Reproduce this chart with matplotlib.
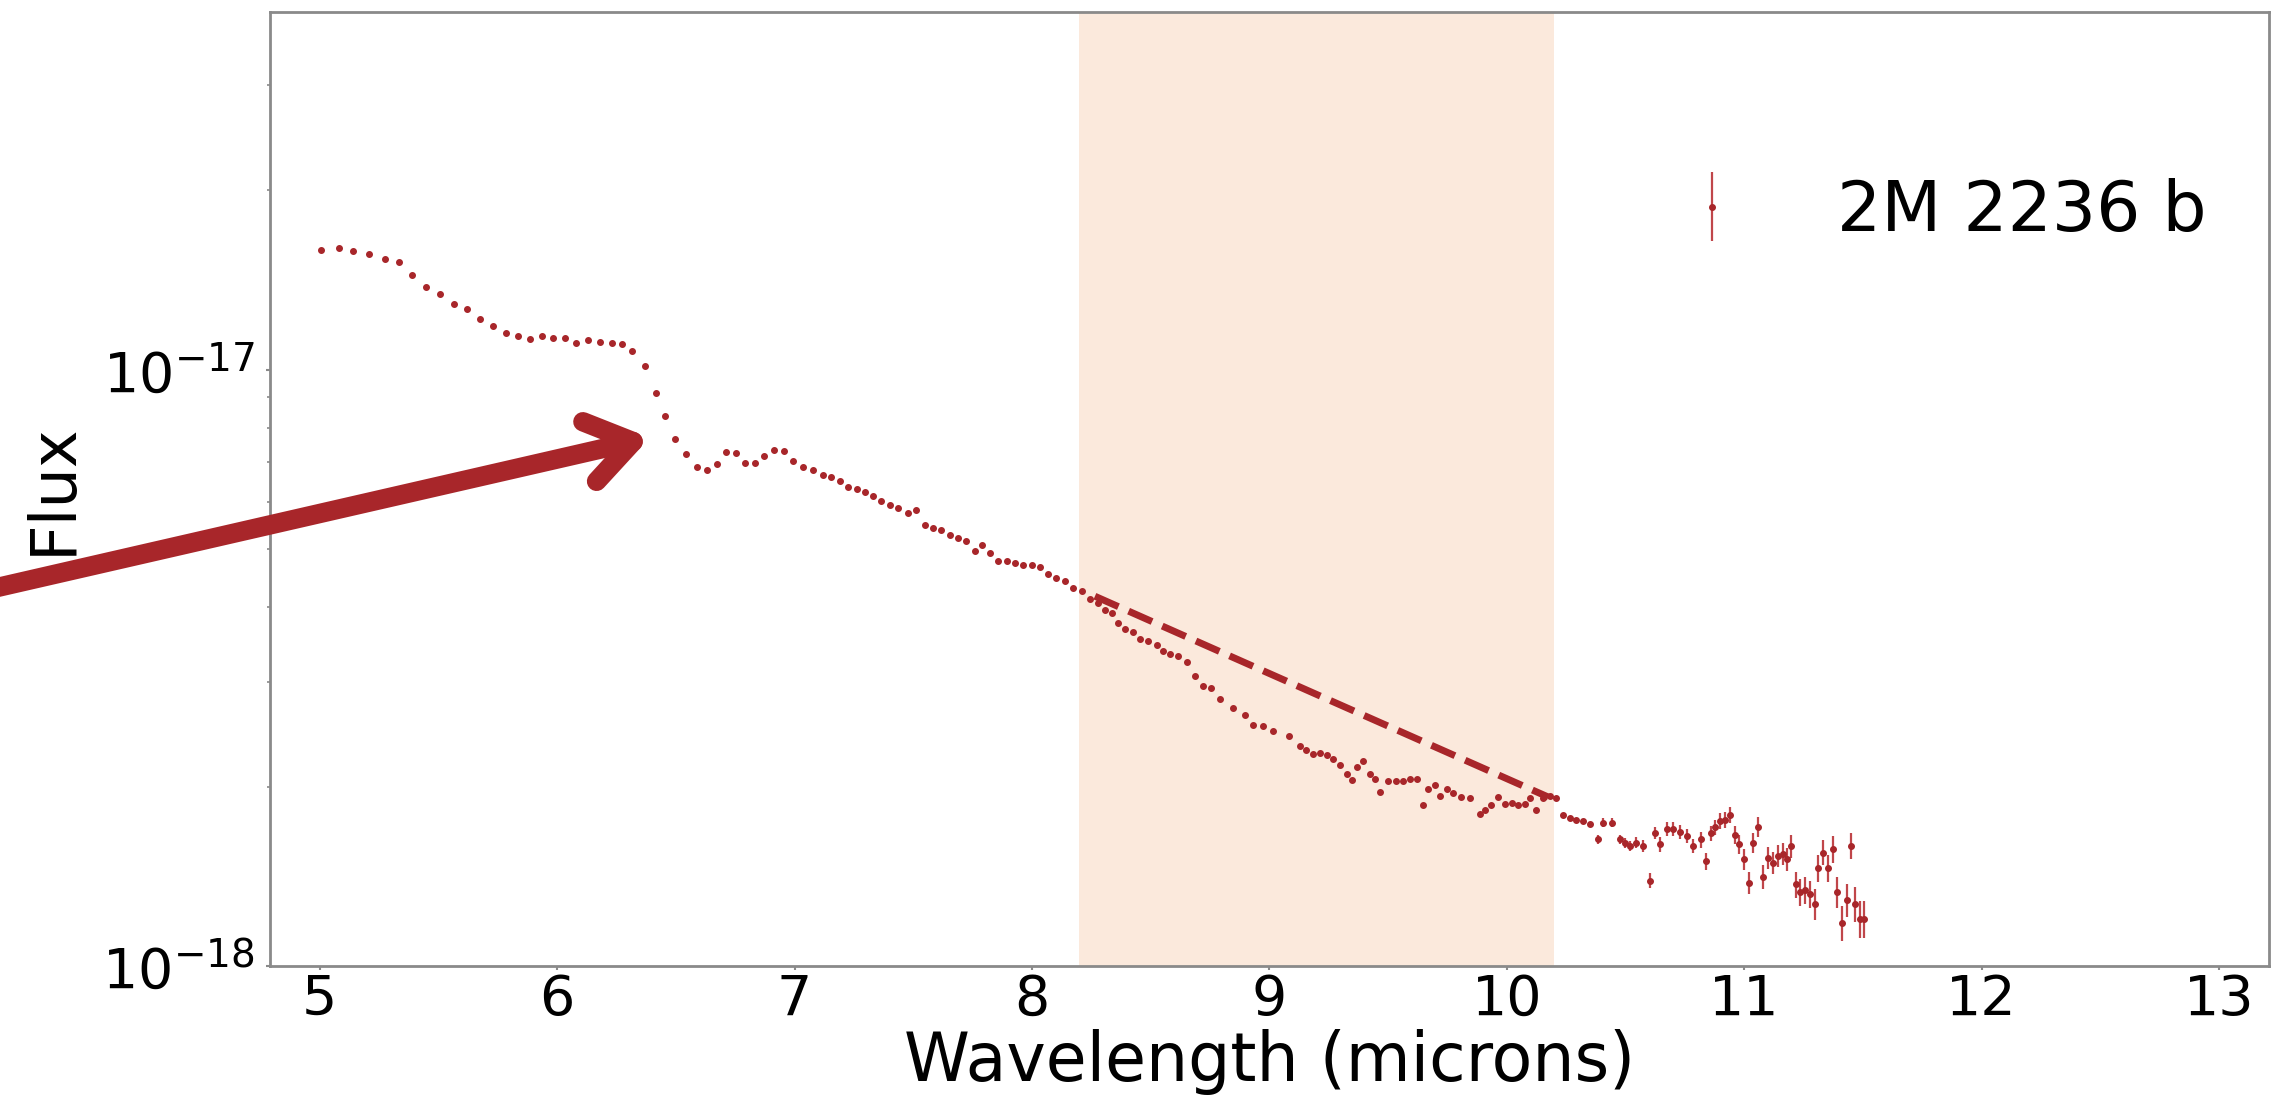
import numpy as np
import matplotlib
matplotlib.use("Agg")
import matplotlib.pyplot as plt
from matplotlib.patches import FancyArrowPatch

# spectrum, flux in units of 1e-18
wave_main = [5.007, 5.080, 5.140, 5.208, 5.274, 5.333, 5.390, 5.447, 5.505, 5.564,
             5.622, 5.674, 5.730, 5.786, 5.835, 5.885, 5.934, 5.983, 6.032, 6.081,
             6.130, 6.179, 6.229, 6.271, 6.317, 6.369, 6.415, 6.456, 6.498, 6.542,
             6.587, 6.629, 6.671, 6.713, 6.755, 6.790, 6.832, 6.872, 6.912, 6.955,
             6.994, 7.036, 7.078, 7.120, 7.155, 7.190, 7.225, 7.261, 7.296, 7.331,
             7.366, 7.401, 7.436, 7.478, 7.513, 7.548, 7.583, 7.618, 7.654, 7.689,
             7.724, 7.759, 7.791, 7.822, 7.857, 7.893, 7.928, 7.963, 7.998, 8.033,
             8.068, 8.103, 8.138, 8.173, 8.209, 8.244, 8.278, 8.307, 8.335, 8.363,
             8.391, 8.426, 8.454, 8.489, 8.525, 8.552, 8.580, 8.616, 8.651, 8.686,
             8.721, 8.756, 8.791, 8.845, 8.898, 8.930, 8.974, 9.017, 9.081, 9.128,
             9.156, 9.184, 9.212, 9.241, 9.268, 9.297, 9.325, 9.346, 9.370, 9.395,
             9.423, 9.444, 9.465, 9.500, 9.535, 9.563, 9.591, 9.620, 9.648, 9.669,
             9.697, 9.718, 9.746, 9.774, 9.809, 9.844, 9.886, 9.907, 9.935, 9.963,
             9.992, 10.020, 10.048, 10.076, 10.097, 10.125, 10.153, 10.181, 10.209, 10.237,
             10.265, 10.293, 10.322, 10.350]
flux_main = [15.89, 16.03, 15.82, 15.62, 15.32, 15.15, 14.39, 13.79, 13.41, 12.90,
             12.66, 12.16, 11.82, 11.52, 11.37, 11.26, 11.37, 11.30, 11.30, 11.08,
             11.20, 11.13, 11.08, 11.05, 10.76, 10.13, 9.14, 8.35, 7.66, 7.21,
             6.87, 6.78, 6.96, 7.28, 7.25, 6.98, 6.98, 7.18, 7.34, 7.30,
             7.02, 6.88, 6.78, 6.67, 6.61, 6.52, 6.36, 6.30, 6.23, 6.14,
             6.02, 5.94, 5.87, 5.75, 5.81, 5.48, 5.43, 5.38, 5.29, 5.23,
             5.16, 4.96, 5.09, 4.93, 4.77, 4.77, 4.75, 4.71, 4.70, 4.67,
             4.54, 4.48, 4.42, 4.31, 4.25, 4.12, 4.07, 3.96, 3.91, 3.76,
             3.67, 3.63, 3.53, 3.51, 3.46, 3.37, 3.33, 3.31, 3.23, 3.06,
             2.95, 2.93, 2.80, 2.71, 2.64, 2.54, 2.53, 2.48, 2.43, 2.34,
             2.30, 2.27, 2.28, 2.26, 2.22, 2.17, 2.10, 2.05, 2.16, 2.21,
             2.10, 2.06, 1.96, 2.04, 2.04, 2.04, 2.06, 2.06, 1.86, 1.98,
             2.01, 1.93, 1.98, 1.95, 1.92, 1.91, 1.80, 1.83, 1.86, 1.92,
             1.87, 1.88, 1.86, 1.87, 1.91, 1.83, 1.91, 1.93, 1.91, 1.79,
             1.77, 1.76, 1.75, 1.73]

wave_tail = [10.385, 10.406, 10.441, 10.476, 10.497, 10.518, 10.546, 10.575, 10.602, 10.623,
             10.644, 10.673, 10.701, 10.729, 10.757, 10.785, 10.818, 10.838, 10.862, 10.876,
             10.897, 10.918, 10.939, 10.960, 10.979, 11.000, 11.021, 11.038, 11.059, 11.080,
             11.101, 11.122, 11.143, 11.164, 11.181, 11.199, 11.217, 11.234, 11.255, 11.276,
             11.297, 11.311, 11.332, 11.353, 11.375, 11.391, 11.410, 11.431, 11.449, 11.466,
             11.487, 11.504]
flux_tail = [1.63, 1.74, 1.74, 1.63, 1.61, 1.59, 1.61, 1.59, 1.39, 1.67,
             1.60, 1.70, 1.70, 1.68, 1.65, 1.59, 1.63, 1.50, 1.67, 1.71,
             1.75, 1.76, 1.79, 1.66, 1.60, 1.51, 1.38, 1.61, 1.71, 1.41,
             1.52, 1.49, 1.53, 1.54, 1.51, 1.59, 1.37, 1.33, 1.34, 1.32,
             1.27, 1.46, 1.55, 1.46, 1.57, 1.33, 1.18, 1.29, 1.59, 1.27,
             1.20, 1.20]
err_tail = [0.03, 0.03, 0.03, 0.03, 0.03, 0.03, 0.035, 0.035, 0.04, 0.04,
            0.045, 0.045, 0.045, 0.045, 0.045, 0.045, 0.05, 0.05, 0.05, 0.05,
            0.055, 0.055, 0.055, 0.06, 0.06, 0.06, 0.06, 0.06, 0.065, 0.065,
            0.065, 0.065, 0.065, 0.065, 0.065, 0.07, 0.07, 0.07, 0.07, 0.07,
            0.075, 0.075, 0.075, 0.075, 0.08, 0.08, 0.08, 0.08, 0.08, 0.085,
            0.085, 0.085]

band = (8.2, 10.2)
slope_x = [8.265, 10.175]
slope_y = [4.17, 1.92]
arrow_tail = (3.40, 4.10)
arrow_tip = (6.39, 7.69)

wave = np.array(wave_main + wave_tail)
flux = np.array(flux_main + flux_tail) * 1e-18
err = np.array([0.0] * len(wave_main) + err_tail) * 1e-18

red = "#a8262a"

fig = plt.figure(figsize=(22.78, 11.16), dpi=100)
ax = fig.add_axes([0.1185, 0.1344, 0.8775, 0.8548])

ax.axvspan(band[0], band[1], color="#fbe9dc", lw=0, zorder=0)
ax.errorbar(wave, flux, yerr=err, fmt="o", color=red, ms=4.0, ecolor="#c0464a",
            elinewidth=1.6, capsize=0, label="2M 2236 b", zorder=3)
ax.plot(slope_x, np.array(slope_y) * 1e-18, "--", color=red, lw=5, zorder=4)

# arrow coming in from outside the left edge
arrow = FancyArrowPatch((arrow_tail[0], arrow_tail[1] * 1e-18),
                        (arrow_tip[0], arrow_tip[1] * 1e-18),
                        arrowstyle="->,head_length=0.32,head_width=0.22",
                        color=red, lw=14, shrinkA=0, shrinkB=0, mutation_scale=100,
                        capstyle="round", joinstyle="round", clip_on=False, zorder=5)
ax.add_patch(arrow)

ax.set_yscale("log")
ax.set_xlim(4.79, 13.21)
ax.set_ylim(1e-18, 3.98e-17)
ax.set_xticks(range(5, 14))
ax.yaxis.set_minor_formatter(matplotlib.ticker.NullFormatter())

for s in ax.spines.values():
    s.set_color("#8a8a8a")
    s.set_linewidth(2)
ax.tick_params(axis="both", which="major", labelsize=40, length=3, width=1.5, color="#8a8a8a")
ax.tick_params(axis="x", which="major", pad=2)
ax.tick_params(axis="y", which="major", pad=8)
ax.tick_params(axis="y", which="minor", length=2, width=1.2, color="#8a8a8a")

ax.set_xlabel("Wavelength (microns)", fontsize=48)
ax.xaxis.set_label_coords(0.5, -0.066)
ax.set_ylabel("Flux", fontsize=46)
ax.yaxis.set_label_coords(-0.093, 0.5)

ax.legend(loc="center right", bbox_to_anchor=(1.0, 0.791), frameon=False,
          fontsize=50, handletextpad=0.8)

fig.savefig("out.png", dpi=100)
